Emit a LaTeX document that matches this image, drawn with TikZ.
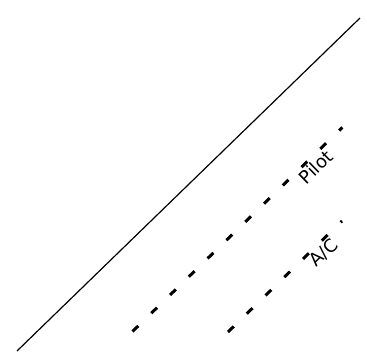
\documentclass[tikz,border=0pt]{standalone}
\usepackage{fontspec}
\setmainfont{DejaVu Sans}
\begin{document}
\begin{tikzpicture}[x=1pt,y=-1pt,
  solidline/.style={line width=1.2pt,black},
  dashline/.style={line width=3pt,black,dash pattern=on 8pt off 18.2pt},
  lbl/.style={font=\fontsize{18}{20}\selectfont,rotate=44.2,inner sep=0pt}]
\useasboundingbox (0,0) rectangle (367,359);
\coordinate (s1) at (17,351);
\coordinate (s2) at (360,18);
\coordinate (p1) at (132.5,331.5);
\coordinate (p2) at (342.4,127.4);
\coordinate (a1) at (228,332);
\coordinate (a2) at (342,221);
\draw[solidline] (s1) -- (s2);
\draw[dashline] (p1) -- (p2);
\draw[dashline] (a1) -- (a2);
\node[lbl] (pilot) at (316,167) {Pilot};
\node[lbl] (ac) at (324,253) {A/C};
\end{tikzpicture}
\end{document}
